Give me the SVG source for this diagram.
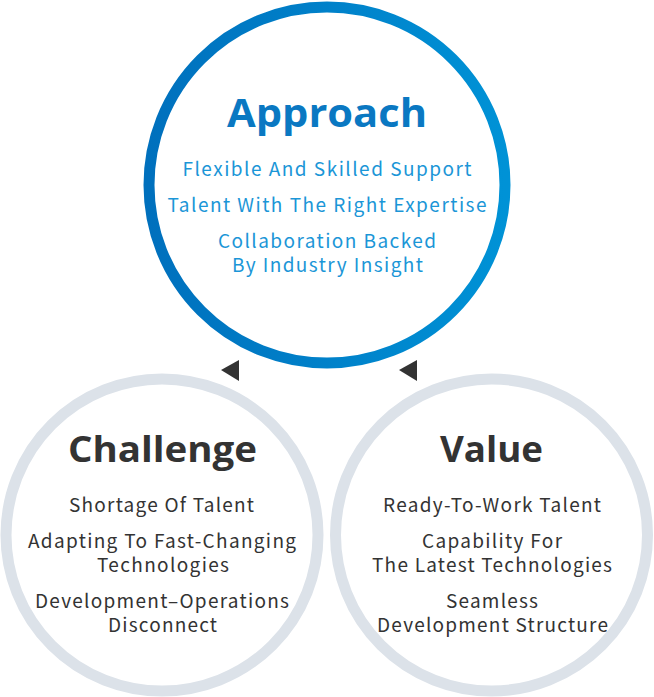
<svg xmlns="http://www.w3.org/2000/svg" width="654" height="697" viewBox="0 0 654 697">
<defs>
<linearGradient id="blueRing" x1="0" y1="0" x2="1" y2="0">
<stop offset="0" stop-color="#0070bd"/>
<stop offset="1" stop-color="#0092d6"/>
</linearGradient>
<style>
.title{font-family:"Open Sans","Noto Sans",sans-serif;font-weight:700;text-anchor:middle}
.body{font-family:"Noto Sans CJK JP","Noto Sans",sans-serif;font-size:19px;text-anchor:middle}
.blue-t{fill:#0a78c2}
.blue-b{fill:#1b96d7}
.dark{fill:#333333}
.gray-ring{fill:#ffffff;stroke:#dce2e9;stroke-width:11}
</style>
</defs>
<rect width="654" height="697" fill="#ffffff"/>
<g id="connectors">
<polygon points="221,370 239,360 239,381" fill="#333333"/>
<polygon points="399,370 417,360 417,381" fill="#333333"/>
</g>
<g id="approach">
<circle cx="327" cy="185" r="178" fill="#ffffff" stroke="url(#blueRing)" stroke-width="11"/>
<text class="title blue-t" x="327" y="127" font-size="40" textLength="200" lengthAdjust="spacingAndGlyphs">Approach</text>
<text class="body blue-b" x="327" y="176" textLength="289" lengthAdjust="spacing">Flexible And Skilled Support</text>
<text class="body blue-b" x="327" y="212" textLength="319" lengthAdjust="spacing">Talent With The Right Expertise</text>
<text class="body blue-b" x="327" y="248" textLength="218" lengthAdjust="spacing">Collaboration Backed</text>
<text class="body blue-b" x="327.5" y="272" textLength="191" lengthAdjust="spacing">By Industry Insight</text>
</g>
<g id="challenge">
<circle class="gray-ring" cx="162" cy="535" r="156"/>
<text class="title dark" x="162.5" y="462" font-size="35" textLength="189" lengthAdjust="spacingAndGlyphs">Challenge</text>
<text class="body dark" x="161.5" y="512" textLength="185" lengthAdjust="spacing">Shortage Of Talent</text>
<text class="body dark" x="162" y="548" textLength="268" lengthAdjust="spacing">Adapting To Fast-Changing</text>
<text class="body dark" x="163" y="572" textLength="132" lengthAdjust="spacing">Technologies</text>
<text class="body dark" x="162" y="608" textLength="254" lengthAdjust="spacing">Development–Operations</text>
<text class="body dark" x="162.5" y="632" textLength="109" lengthAdjust="spacing">Disconnect</text>
</g>
<g id="value">
<circle class="gray-ring" cx="491.5" cy="535" r="156"/>
<text class="title dark" x="491.5" y="462" font-size="35" textLength="103" lengthAdjust="spacingAndGlyphs">Value</text>
<text class="body dark" x="492" y="512" textLength="218" lengthAdjust="spacing">Ready-To-Work Talent</text>
<text class="body dark" x="492" y="548" textLength="140" lengthAdjust="spacing">Capability For</text>
<text class="body dark" x="492" y="572" textLength="240" lengthAdjust="spacing">The Latest Technologies</text>
<text class="body dark" x="492" y="608" textLength="92" lengthAdjust="spacing">Seamless</text>
<text class="body dark" x="492.5" y="632" textLength="231" lengthAdjust="spacing">Development Structure</text>
</g>
</svg>
